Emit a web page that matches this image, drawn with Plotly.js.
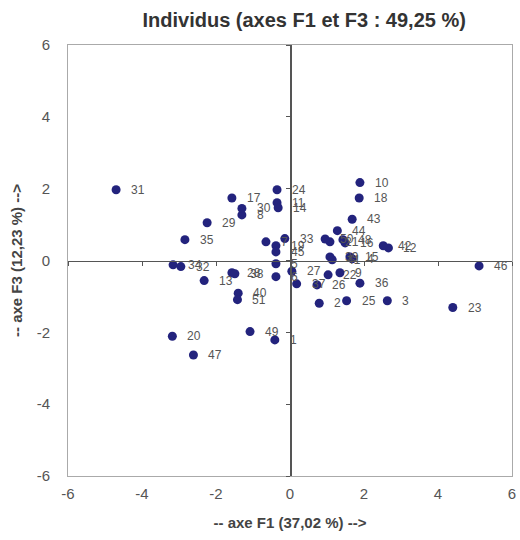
<!DOCTYPE html>
<html>
<head>
<meta charset="utf-8">
<script src="https://cdn.plot.ly/plotly-3.0.1.min.js"></script>
<style>html,body{margin:0;padding:0;background:#fff}#chart{width:520px;height:540px}</style>
</head>
<body>
<div id="chart"></div>
<script>
var labels = ["1","2","3","4","5","6","7","8","9","10","11","12","13","14","15","16","17","18","19","20","21","22","23","24","25","26","27","28","29","30","31","32","33","34","35","36","37","38","39","40","41","42","43","44","45","46","47","48","49","50","51"];
var f1 = [-0.41,0.79,2.63,1.68,-0.38,-0.38,-0.65,-1.30,1.35,1.89,-0.35,2.66,-2.32,-0.32,1.62,1.49,-1.57,1.87,-0.38,-3.18,1.08,1.03,4.40,-0.35,1.53,0.73,0.05,-1.57,-2.24,-1.30,-4.70,-2.95,-0.14,-3.16,-2.84,1.89,0.18,-1.49,1.08,-1.40,1.14,2.52,1.68,1.28,-0.38,5.11,-2.61,1.43,-1.08,0.95,-1.42];
var f3 = [-2.21,-1.19,-1.12,0.05,-0.09,-0.45,0.52,1.27,-0.34,2.17,1.61,0.35,-0.56,1.47,0.10,0.49,1.74,1.74,0.41,-2.11,0.52,-0.40,-1.31,1.97,-1.12,-0.68,-0.30,-0.34,1.05,1.45,1.97,-0.17,0.61,-0.12,0.58,-0.63,-0.65,-0.37,0.10,-0.91,0.02,0.41,1.15,0.83,0.24,-0.15,-2.63,0.58,-1.98,0.60,-1.09];
var tickVals = [-6,-4,-2,0,2,4,6];

var annotations = labels.map(function(t,i){
  return {x:f1[i], y:f3[i], xref:'x', yref:'y', text:t, showarrow:false,
          xanchor:'left', yanchor:'middle', xshift:13,
          font:{family:'Liberation Sans, Arial, sans-serif', size:12, color:'#555'}};
});

var trace = {x:f1, y:f3, mode:'markers', type:'scatter',
  marker:{color:'#23237d', size:9}, hoverinfo:'text', text:labels};

var layout = {
  width:520, height:540,
  margin:{l:68, r:8, t:45, b:64},
  paper_bgcolor:'#fff', plot_bgcolor:'#fff',
  showlegend:false,
  font:{family:'Liberation Sans, Arial, sans-serif', color:'#555'},
  title:{text:'<b>Individus (axes F1 et F3 : 49,25 %)</b>', x:0.585, xanchor:'center', y:0.963, yanchor:'middle',
         font:{family:'Liberation Sans, Arial, sans-serif', size:20, color:'#333'}},
  xaxis:{range:[-6,6], tickvals:tickVals, ticktext:tickVals.map(String), showgrid:false, zeroline:false,
         showline:true, mirror:true, linecolor:'#aaa', linewidth:1, ticks:'', ticklen:0,
         ticklabelstandoff:4,
         tickfont:{size:15, color:'#555'},
         title:{text:'<b>-- axe F1 (37,02 %) --></b>', standoff:16, font:{size:15, color:'#444'}}},
  yaxis:{range:[-6,6], tickvals:tickVals, ticktext:tickVals.map(String), showgrid:false, zeroline:false,
         showline:true, mirror:true, linecolor:'#aaa', linewidth:1, ticks:'', ticklen:0,
         ticklabelstandoff:14,
         tickfont:{size:15, color:'#555'},
         title:{text:'<b>-- axe F3 (12,23 %) --></b>', standoff:10, font:{size:15, color:'#444'}}},
  xaxis2:{overlaying:'x', anchor:'free', position:0.5, range:[-6,6], tickvals:tickVals,
          showticklabels:false, showgrid:false, zeroline:false, showline:true, linecolor:'#555', linewidth:1.5,
          ticks:'outside', ticklen:4, tickcolor:'#555'},
  yaxis2:{overlaying:'y', anchor:'free', position:0.5, range:[-6,6], tickvals:tickVals, side:'left',
          showticklabels:false, showgrid:false, zeroline:false, showline:true, linecolor:'#555', linewidth:1.5,
          ticks:'outside', ticklen:4, tickcolor:'#555'},
  annotations:annotations
};

var helper = {x:[], y:[], xaxis:'x2', yaxis:'y2', type:'scatter', mode:'markers', hoverinfo:'skip', showlegend:false};

Plotly.newPlot('chart', [helper, trace], layout, {displayModeBar:false, staticPlot:true});
</script>
</body>
</html>
